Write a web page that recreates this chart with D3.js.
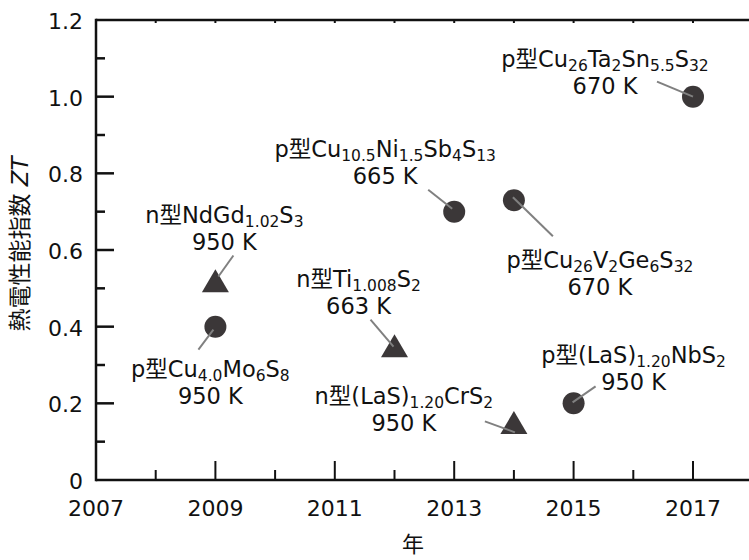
<!DOCTYPE html>
<html>
<head>
<meta charset="utf-8">
<script src="https://cdn.jsdelivr.net/npm/d3@7"></script>
<style>
  body { margin: 0; background: #fff; }
  svg text { font-family: "DejaVu Sans", "Noto Sans CJK JP", sans-serif; fill: #111; }
</style>
</head>
<body>
<div id="main-frame"></div>
<script>
// data
var years = [2009, 2009, 2012, 2013, 2014, 2014, 2015, 2017];
var ztValues = [0.40, 0.51, 0.34, 0.70, 0.73, 0.14, 0.20, 1.00];
var markerKind = ["circle", "triangle", "triangle", "circle", "circle", "triangle", "circle", "circle"];
// formula pieces: [text, isSubscript]
var formulas = [
  [["p型Cu", 0], ["4.0", 1], ["Mo", 0], ["6", 1], ["S", 0], ["8", 1]],
  [["n型NdGd", 0], ["1.02", 1], ["S", 0], ["3", 1]],
  [["n型Ti", 0], ["1.008", 1], ["S", 0], ["2", 1]],
  [["p型Cu", 0], ["10.5", 1], ["Ni", 0], ["1.5", 1], ["Sb", 0], ["4", 1], ["S", 0], ["13", 1]],
  [["p型Cu", 0], ["26", 1], ["V", 0], ["2", 1], ["Ge", 0], ["6", 1], ["S", 0], ["32", 1]],
  [["n型(LaS)", 0], ["1.20", 1], ["CrS", 0], ["2", 1]],
  [["p型(LaS)", 0], ["1.20", 1], ["NbS", 0], ["2", 1]],
  [["p型Cu", 0], ["26", 1], ["Ta", 0], ["2", 1], ["Sn", 0], ["5.5", 1], ["S", 0], ["32", 1]]
];
var temps = ["950 K", "950 K", "663 K", "665 K", "670 K", "950 K", "950 K", "670 K"];
var xTicks = [2007, 2009, 2011, 2013, 2015, 2017];
var yTicks = [0, 0.2, 0.4, 0.6, 0.8, 1.0, 1.2];

// label placement relative to each point (pixels): label dx, dy, leader start, leader end
var labelLayout = [
  { dx: -5, dy: 50, l1: [-2, 3], l2: [-17, 23] },
  { dx: 9, dy: -62, l1: [3, -8], l2: [18, -29] },
  { dx: -36, dy: -63, l1: [-1, -3], l2: [-24, -30] },
  { dx: -69, dy: -55, l1: [-2, -3], l2: [-26, -22] },
  { dx: 86, dy: 68, l1: [-1, -3], l2: [39, 36] },
  { dx: -110, dy: -22, l1: [1, 6], l2: [-29, -5] },
  { dx: 60, dy: -40, l1: [-1, -1], l2: [22, -17] },
  { dx: -88, dy: -30, l1: [0, 0], l2: [-36, -15] }
];

var width = 749, height = 560;
var plotLeft = 96, plotTop = 20, plotBottom = 480;

var mainSVG = d3.select("#main-frame").append("svg")
  .attr("width", width)
  .attr("height", height);

var x = d3.scaleLinear().domain([2007, 2018]).range([plotLeft, plotLeft + 597 * 1.1]);
var y = d3.scaleLinear().domain([0, 1.2]).range([plotBottom, plotTop]);

// frame
mainSVG.append("line").attr("x1", plotLeft).attr("x2", width).attr("y1", y(0)).attr("y2", y(0))
  .style("stroke", "#111").style("stroke-width", 2.5);
mainSVG.append("line").attr("x1", plotLeft).attr("x2", width).attr("y1", y(1.2)).attr("y2", y(1.2))
  .style("stroke", "#111").style("stroke-width", 2.5);
mainSVG.append("line").attr("x1", plotLeft).attr("x2", plotLeft).attr("y1", y(0) + 1.25).attr("y2", y(1.2) - 1.25)
  .style("stroke", "#111").style("stroke-width", 2.5);

// x ticks: each year, long at odd years, tiny ticks on top
d3.range(2008, 2019).forEach(function(yr) {
  var len = (yr % 2 === 1) ? 19 : 10;
  mainSVG.append("line").attr("x1", x(yr)).attr("x2", x(yr))
    .attr("y1", y(0)).attr("y2", y(0) - len)
    .style("stroke", "#111").style("stroke-width", 2);
  mainSVG.append("line").attr("x1", x(yr)).attr("x2", x(yr))
    .attr("y1", y(1.2)).attr("y2", y(1.2) + 3)
    .style("stroke", "#111").style("stroke-width", 2);
});
xTicks.forEach(function(t) {
  mainSVG.append("text").attr("x", x(t)).attr("y", 516)
    .attr("text-anchor", "middle").style("font-size", "22px").text(t);
});

// y ticks: major every 0.2, minor between
d3.range(1, 12).forEach(function(i) {
  var v = i / 10;
  var len = (i % 2 === 0) ? 18 : 9;
  mainSVG.append("line").attr("x1", plotLeft).attr("x2", plotLeft + len)
    .attr("y1", y(v)).attr("y2", y(v))
    .style("stroke", "#111").style("stroke-width", 2.5);
});
yTicks.forEach(function(t) {
  mainSVG.append("text").attr("x", 83).attr("y", y(t) + 9)
    .attr("text-anchor", "end").style("font-size", "22px")
    .text(t === 0 ? "0" : t.toFixed(1));
});

// axis titles
var yTitle = mainSVG.append("text")
  .attr("transform", "translate(28," + 244 + ") rotate(-90)")
  .attr("text-anchor", "middle").style("font-size", "23px");
yTitle.append("tspan").text("熱電性能指数 ");
yTitle.append("tspan").style("font-style", "italic").text("ZT");

mainSVG.append("text").attr("x", 413).attr("y", 552)
  .attr("text-anchor", "middle").style("font-size", "22px").text("年");

// markers
var markColor = "#3b3738";
years.forEach(function(yr, i) {
  var cx = x(yr), cy = y(ztValues[i]);
  if (markerKind[i] === "circle") {
    mainSVG.append("circle").attr("cx", cx).attr("cy", cy).attr("r", 11)
      .style("fill", markColor);
  } else {
    var h = 23, w = 27;
    var pts = [[cx, cy - h * 2 / 3], [cx + w / 2, cy + h / 3], [cx - w / 2, cy + h / 3]];
    mainSVG.append("path").attr("d", "M" + pts.join("L") + "Z").style("fill", markColor);
  }
});

// leader lines and labels
years.forEach(function(yr, i) {
  var cx = x(yr), cy = y(ztValues[i]);
  var lay = labelLayout[i];
  mainSVG.append("line")
    .attr("x1", cx + lay.l1[0]).attr("y1", cy + lay.l1[1])
    .attr("x2", cx + lay.l2[0]).attr("y2", cy + lay.l2[1])
    .style("stroke", "#808080").style("stroke-width", 2);

  var t = mainSVG.append("text").attr("x", cx + lay.dx).attr("y", cy + lay.dy)
    .attr("text-anchor", "middle").style("font-size", "22.5px");
  var shifted = false;
  formulas[i].forEach(function(p) {
    var s = t.append("tspan").text(p[0]);
    if (p[1]) {
      s.style("font-size", "15.5px");
      if (!shifted) { s.attr("dy", 4); shifted = true; }
    } else if (shifted) {
      s.attr("dy", -4);
      shifted = false;
    }
  });
  mainSVG.append("text").attr("x", cx + lay.dx).attr("y", cy + lay.dy + 27)
    .attr("text-anchor", "middle").style("font-size", "22.5px").text(temps[i]);
});
</script>
</body>
</html>
